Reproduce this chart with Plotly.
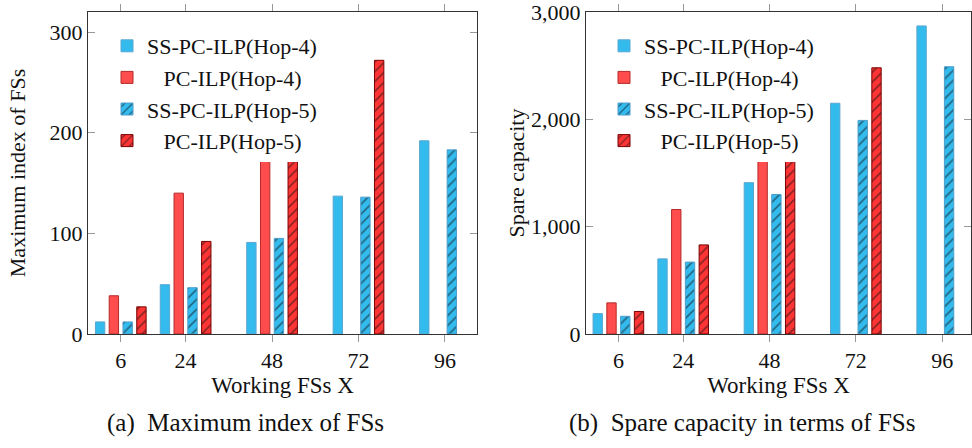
import plotly.graph_objects as go

# ---- data ----
working_fs = [6, 24, 48, 72, 96]
series_names = ["SS-PC-ILP(Hop-4)", "PC-ILP(Hop-4)", "SS-PC-ILP(Hop-5)", "PC-ILP(Hop-5)"]

max_index_ss_hop4 = [12, 49, 91, 137, 192]
max_index_pc_hop4 = [38, 140, 173, None, None]
max_index_ss_hop5 = [12, 46, 95, 136, 183]
max_index_pc_hop5 = [27, 92, 173, 272, None]

spare_ss_hop4 = [190, 700, 1410, 2150, 2870]
spare_pc_hop4 = [290, 1160, 1620, None, None]
spare_ss_hop5 = [165, 670, 1300, 1990, 2490]
spare_pc_hop5 = [210, 830, 1620, 2480, None]

left_ticks = [0, 100, 200, 300]
right_ticks = [0, 1000, 2000, 3000]

# ---- styling ----
FONT = "Liberation Serif, Times New Roman, serif"
W, H = 972, 448
styles = [
    dict(color="#33bbee", line="#5aa6d0", shape=""),
    dict(color="#ff4d4d", line="#b52a2a", shape=""),
    dict(color="#33bbee", line="#4f9cc9", shape="/"),
    dict(color="#ff3535", line="#7a0000", shape="/"),
]
pad = "\u00a0\u00a0\u00a0"
display_names = [series_names[0], pad + series_names[1], series_names[2], pad + series_names[3]]

fig = go.Figure()

def add_bars(values_list, xaxis, yaxis, legend):
    for name, vals, st in zip(display_names, values_list, styles):
        marker = dict(color=st["color"], line=dict(color=st["line"], width=1))
        if st["shape"]:
            marker["pattern"] = dict(shape=st["shape"], fgcolor="#111111",
                                     bgcolor=st["color"], size=7, solidity=0.24,
                                     fillmode="overlay")
        fig.add_trace(go.Bar(x=working_fs, y=vals, name=name, marker=marker,
                             xaxis=xaxis, yaxis=yaxis, legend=legend))

add_bars([max_index_ss_hop4, max_index_pc_hop4, max_index_ss_hop5, max_index_pc_hop5],
         "x", "y", "legend")
add_bars([spare_ss_hop4, spare_pc_hop4, spare_ss_hop5, spare_pc_hop5],
         "x2", "y2", "legend2")

def px_x(p):
    return p / W

def px_y(p):
    return 1 - p / H

ydom = [px_y(334), px_y(12)]

xaxis_common = dict(
    tickvals=working_fs, ticks="outside", ticklen=7, tickcolor="#999999",
    showline=True, linecolor="#333333", linewidth=1, mirror="ticks",
    showgrid=False, zeroline=False, automargin=False, ticklabeloverflow="allow",
    tickfont=dict(family=FONT, size=22, color="#111111"),
    title=dict(text="Working FSs X", font=dict(family=FONT, size=23, color="#111111"), standoff=0),
)
yaxis_common = dict(
    ticks="inside", ticklen=7, tickcolor="#999999",
    showline=True, linecolor="#333333", linewidth=1, mirror="ticks",
    showgrid=False, zeroline=False, automargin=False, ticklabeloverflow="allow",
    tickfont=dict(family=FONT, size=22, color="#111111"),
)

fig.update_layout(
    width=W, height=H,
    margin=dict(l=0, r=0, t=0, b=0, autoexpand=False),
    paper_bgcolor="white", plot_bgcolor="white",
    barmode="group", bargap=0.15, bargroupgap=0.32,
    font=dict(family=FONT, size=22, color="#111111"),
    xaxis=dict(xaxis_common, domain=[px_x(88), px_x(477)], range=[-3.1, 104.9], anchor="y"),
    yaxis=dict(yaxis_common, domain=ydom, range=[0, 320], tickvals=left_ticks, anchor="x",
               title=dict(text="Maximum index of FSs", font=dict(family=FONT, size=22), standoff=17)),
    xaxis2=dict(xaxis_common, domain=[px_x(586), px_x(971)], range=[-3, 104], anchor="y2"),
    yaxis2=dict(yaxis_common, domain=ydom, range=[0, 3000], tickvals=right_ticks,
                tickformat=",", anchor="x2",
                title=dict(text="Spare capacity", font=dict(family=FONT, size=22), standoff=0)),
    legend=dict(x=px_x(107), y=px_y(25), xanchor="left", yanchor="top",
                bgcolor="white", borderwidth=0, tracegroupgap=0,
                font=dict(family=FONT, size=22, color="#111111")),
    legend2=dict(x=px_x(604), y=px_y(25), xanchor="left", yanchor="top",
                 bgcolor="white", borderwidth=0, tracegroupgap=0,
                 font=dict(family=FONT, size=22, color="#111111")),
    annotations=[
        dict(text="(a)\u00a0\u00a0Maximum index of FSs", x=px_x(245), y=px_y(423),
             xref="paper", yref="paper", showarrow=False, xanchor="center", yanchor="middle",
             font=dict(family=FONT, size=25, color="#111111")),
        dict(text="(b)\u00a0\u00a0Spare capacity in terms of FSs", x=px_x(742), y=px_y(423),
             xref="paper", yref="paper", showarrow=False, xanchor="center", yanchor="middle",
             font=dict(family=FONT, size=25, color="#111111")),
    ],
)

fig.write_html("out.html", config={"displayModeBar": False},
               post_script="document.body.style.margin='0';")
